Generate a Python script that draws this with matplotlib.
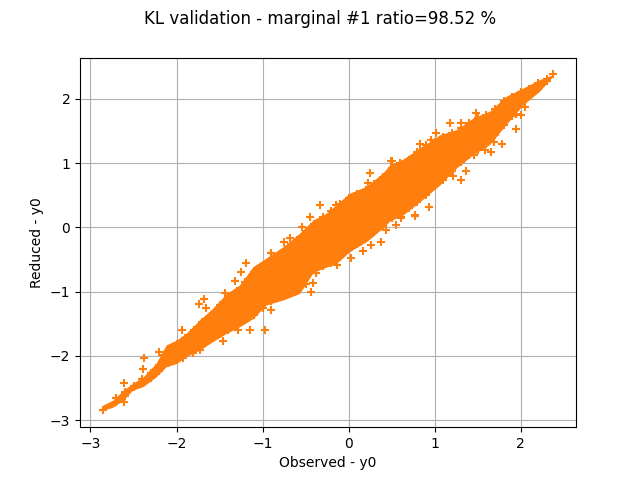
import matplotlib
matplotlib.use("AGG")
import matplotlib.pyplot as plt

# the core of the cloud is too dense to read single points, so it is kept as
# an envelope; the crosses on its rim and the separate
# ones are listed below
bandX = [-2.86,-2.74,-2.62,-2.51,-2.39,-2.24,-2.12,-2.00,-1.89,-1.73,-1.58,-1.42,-1.27,-1.11,-0.96,-0.76,-0.57,
	-0.41,-0.26,-0.14,0.01,0.21,0.40,0.48,0.63,0.83,1.06,1.25,1.445,1.64,1.83,2.03,2.22,2.38]
bandLow = [-2.85,-2.80,-2.69,-2.535,-2.48,-2.33,-2.17,-2.12,-2.015,-1.91,-1.78,-1.65,-1.55,-1.42,-1.21,-1.13,-1.03,
	-0.70,-0.62,-0.56,-0.38,-0.22,-0.01,0.10,0.19,0.40,0.66,0.92,1.13,1.29,1.60,1.91,2.12,2.36]
bandHigh = [-2.77,-2.69,-2.535,-2.43,-2.33,-2.12,-1.83,-1.755,-1.65,-1.44,-1.26,-1.03,-0.90,-0.61,-0.48,-0.30,-0.09,
	0.117,0.22,0.36,0.53,0.64,0.85,0.975,1.06,1.24,1.44,1.52,1.70,1.81,2.04,2.17,2.30,2.38]

observed = [-2.857,2.38,-1.682,-1.744,-1.655,-1.942,-1.248,-1.19,-0.907,-0.977,-1.143,-1.287,-1.461,-1.733,-1.81,-1.927,-2.209,
	-2.38,-2.392,-2.605,-2.605,-0.899,-1.317,-1.442,
	-0.337,-0.453,-0.543,-0.752,-0.686,-0.907,-0.151,0.497,0.252,0.224,0.767,0.613,0.555,0.438,0.372,0.264,0.166,
	0.031,-0.131,-0.434,-0.415,-0.376,
	1.174,1.31,1.477,0.826,0.826,0.962,1.02,1.942,2.008,1.942,1.783,1.69,1.659,1.581,1.453,1.369,1.31,1.213,0.93,
	0.767,0.613,0.508,2.047]
reduced = [-2.85,2.38,-1.115,-1.193,-1.251,-1.599,-0.689,-0.549,-0.393,-1.599,-1.599,-1.599,-1.771,-1.911,-1.963,-2.041,-1.947,
	-2.031,-2.212,-2.431,-2.717,-1.287,-0.83,-1.017,
	0.351,0.159,-0.003,-0.221,-0.168,-0.402,0.351,1.037,0.846,0.69,0.184,0.159,0.039,-0.039,-0.221,-0.273,-0.367,
	-0.481,-0.585,-1.011,-0.871,-0.715,
	1.626,1.626,1.782,1.298,1.183,1.365,1.47,1.537,1.755,1.766,1.303,1.329,1.167,1.209,1.131,0.871,0.741,0.793,0.309,
	0.179,0.143,1.037,1.869]

upperX = [-2.7,-2.6,-2.5,-2.4,-2.3,-2.2,-2.15,-2.1,-2.0,-1.9,-1.8,-1.7,-1.6,-1.5,-1.4,-1.3,-1.2,-1.1,-1.0,-0.9,-0.8,-0.7,
	-0.6,-0.5,-0.4,-0.3,-0.2,-0.1,0.0,0.1,0.2,0.3,0.4,0.5,0.6,0.7,0.8,0.9,1.0,1.1,1.2,1.3,1.4,1.5,1.6,1.7,1.8,1.9,2.0,2.1,2.2,2.3]
upperY = [-2.66,-2.56,-2.47,-2.36,-2.27,-2.14,-1.98,-1.93,-1.82,-1.72,-1.60,-1.47,-1.36,-1.21,-1.11,-0.99,-0.85,-0.69,-0.60,-0.49,-0.41,-0.30,
	-0.20,-0.05,0.05,0.16,0.26,0.36,0.46,0.52,0.58,0.68,0.79,0.93,1.0,1.05,1.17,1.28,1.33,1.40,1.47,1.55,1.63,1.70,1.75,1.84,1.96,2.03,2.11,2.16,2.24,2.31]
lowerX = [-2.7,-2.6,-2.5,-2.4,-2.3,-2.2,-2.1,-2.0,-1.9,-1.8,-1.7,-1.6,-1.5,-1.4,-1.3,-1.2,-1.1,-1.0,-0.9,-0.8,-0.7,-0.6,
	-0.5,-0.4,-0.3,-0.2,-0.1,0.0,0.1,0.2,0.3,0.4,0.5,0.6,0.7,0.8,0.9,1.0,1.1,1.2,1.3,1.4,1.5,1.6,1.7,1.8,1.9,2.0,2.1,2.2,2.3]
lowerY = [-2.72,-2.62,-2.49,-2.43,-2.34,-2.24,-2.11,-2.06,-1.96,-1.91,-1.84,-1.74,-1.66,-1.60,-1.51,-1.44,-1.36,-1.25,-1.14,-1.06,-1.02,-0.97,
	-0.88,-0.66,-0.60,-0.55,-0.47,-0.33,-0.26,-0.16,-0.08,0.04,0.14,0.22,0.30,0.40,0.50,0.64,0.74,0.88,1.02,1.12,1.21,1.30,1.44,1.60,1.73,1.93,2.04,2.15,2.28]

fig = plt.figure()
fig.suptitle("KL validation - marginal #1 ratio=98.52 %")
ax = fig.add_subplot(111)
ax.fill_between(bandX, bandLow, bandHigh, color="tab:orange", linewidth=0, zorder=2)
ax.scatter(observed, reduced, marker="+", color="tab:orange", zorder=2)
ax.scatter(upperX, upperY, marker="+", color="tab:orange", zorder=2)
ax.scatter(lowerX, lowerY, marker="+", color="tab:orange", zorder=2)
ax.set_xlabel("Observed - y0")
ax.set_ylabel("Reduced - y0")
ax.grid()
plt.savefig("out.png")
